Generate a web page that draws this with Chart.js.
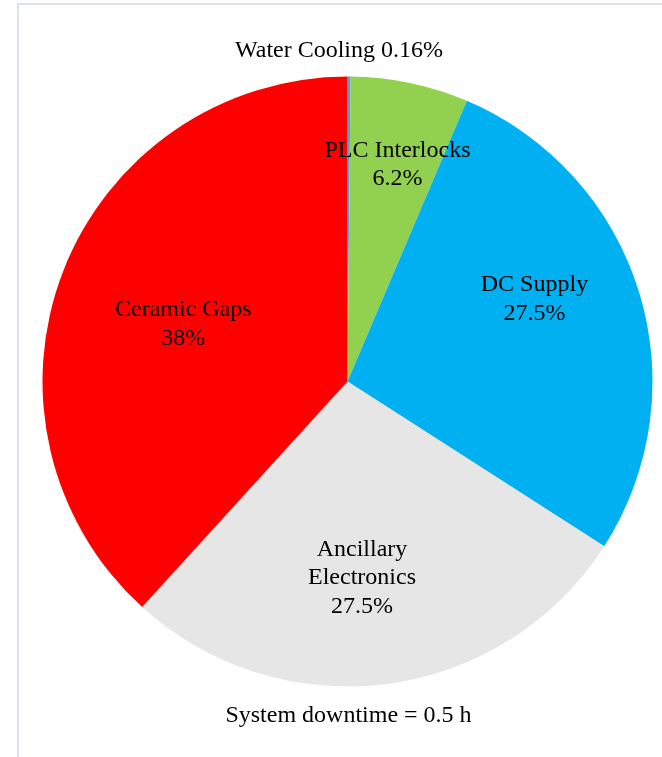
<!DOCTYPE html>
<html>
<head>
<meta charset="utf-8">
<script src="https://cdn.jsdelivr.net/npm/chart.js@4.4.1/dist/chart.umd.min.js"></script>
<style>
  html, body { margin: 0; padding: 0; background: #ffffff; overflow: hidden; }
  #wrap { position: relative; width: 662px; height: 757px; }
  #frame { position: absolute; left: 17px; top: 3px; width: 720px; height: 820px;
           border: 2px solid #dde2e8; box-sizing: border-box; pointer-events: none; }
  canvas { position: absolute; left: 0; top: 0; }
</style>
</head>
<body>
<div id="wrap">
  <div id="frame"></div>
  <canvas id="c" width="662" height="757"></canvas>
</div>
<script>
// ---- data ----
const categories = ['Water Cooling', 'PLC Interlocks', 'DC Supply', 'Ancillary Electronics', 'Ceramic Gaps'];
const values = [0.16, 6.2, 27.5, 27.5, 38];
const percentLabels = ['0.16%', '6.2%', '27.5%', '27.5%', '38%'];
const labelLines = [['Water Cooling'], ['PLC Interlocks'], ['DC Supply'], ['Ancillary', 'Electronics'], ['Ceramic Gaps']];
const percentInline = [true, false, false, false, false];
const sliceColors = ['#5b9bd5', '#92d050', '#00b0f0', '#e7e6e6', '#ff0000'];
const footnote = 'System downtime = 0.5 h';

// label placement (radius fraction, angle shift in degrees from slice mid-angle)
const labelRadiusFrac = [1.0915, 0.735, 0.672, 0.641, 0.572];
const labelAngleShift = [-1.75, 1.07, -7.06, 3.25, -1.39];

const FONT = "24px 'Liberation Serif', 'Times New Roman', serif";
const LINE_H = 28.3;
const CAP_MID = 8;

const labelPlugin = {
  id: 'sliceLabels',
  afterDatasetsDraw(chart) {
    const ctx = chart.ctx;
    const meta = chart.getDatasetMeta(0);
    ctx.save();
    ctx.font = FONT;
    ctx.fillStyle = '#000000';
    ctx.textAlign = 'center';
    ctx.textBaseline = 'alphabetic';
    let cx = 0, cy = 0, R = 0;
    meta.data.forEach((arc, i) => {
      const p = arc.getProps(['x', 'y', 'startAngle', 'endAngle', 'outerRadius'], true);
      cx = p.x; cy = p.y; R = p.outerRadius;
      const mid = (p.startAngle + p.endAngle) / 2 + labelAngleShift[i] * Math.PI / 180;
      const r = R * labelRadiusFrac[i];
      const ax = p.x + Math.cos(mid) * r;
      const ay = p.y + Math.sin(mid) * r;
      let lines = labelLines[i].slice();
      if (percentInline[i]) {
        lines[lines.length - 1] = lines[lines.length - 1] + ' ' + percentLabels[i];
      } else {
        lines.push(percentLabels[i]);
      }
      const n = lines.length;
      lines.forEach((t, k) => {
        ctx.fillText(t, ax, ay + CAP_MID + (k - (n - 1) / 2) * LINE_H);
      });
    });
    // footnote below the pie
    ctx.fillText(footnote, cx + 1, cy + R + 35.5);
    ctx.restore();
  }
};

new Chart(document.getElementById('c'), {
  type: 'pie',
  data: {
    labels: categories,
    datasets: [{
      data: values,
      backgroundColor: sliceColors,
      borderWidth: 0,
      hoverOffset: 0
    }]
  },
  options: {
    responsive: false,
    devicePixelRatio: 1,
    animation: false,
    layout: { padding: { left: 42.5, right: 9.5, top: 76.5, bottom: 70.5 } },
    plugins: {
      legend: { display: false },
      tooltip: { enabled: false },
      title: { display: false }
    }
  },
  plugins: [labelPlugin]
});
</script>
</body>
</html>
